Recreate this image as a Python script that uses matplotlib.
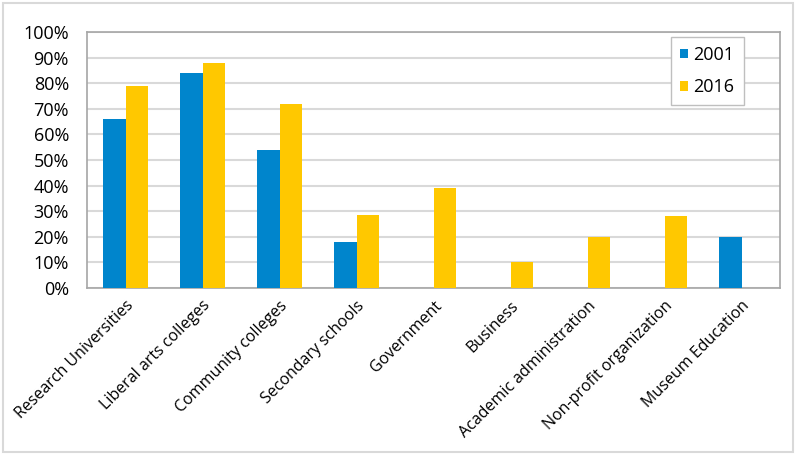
import matplotlib
matplotlib.use("Agg")
import matplotlib.pyplot as plt
import numpy as np
from matplotlib.patches import Rectangle
from matplotlib.ticker import PercentFormatter

categories = [
    "Research Universities", "Liberal arts colleges", "Community colleges",
    "Secondary schools", "Government", "Business", "Academic administration",
    "Non-profit organization", "Museum Education",
]
# None = no bar for that year
vals_2001 = [66, 84, 54, 18, None, None, None, None, 20]
vals_2016 = [79, 88, 72, 28.5, 39, 10, 20, 28, None]
series_labels = ["2001", "2016"]
colors = ["#0085CC", "#FFC800"]

plt.rcParams["font.family"] = ["Open Sans", "DejaVu Sans"]

fig = plt.figure(figsize=(8.01, 4.59), dpi=100)
ax = fig.add_axes([87 / 801, 1 - 288 / 459, (780 - 87) / 801, (288 - 32) / 459])

x = np.arange(len(categories))
w = 0.286
for vals, off, c, lab in [(vals_2001, -w / 2, colors[0], series_labels[0]),
                          (vals_2016, w / 2, colors[1], series_labels[1])]:
    xs = [xi + off for xi, v in zip(x, vals) if v is not None]
    ys = [v for v in vals if v is not None]
    ax.bar(xs, ys, width=w, color=c, label=lab, zorder=3)

ax.set_xlim(-0.5, len(categories) - 0.5)
ax.set_ylim(0, 100)
ax.set_yticks(np.arange(0, 101, 10))
ax.yaxis.set_major_formatter(PercentFormatter(decimals=0))
ax.grid(axis="y", color="#D9D9D9", lw=1.5, zorder=0)
for s in ax.spines.values():
    s.set_color("#A6A6A6")
    s.set_linewidth(1.2)
ax.tick_params(axis="both", length=0)
ax.tick_params(axis="y", labelsize=13, pad=13)
ax.set_xticks(x)
ax.set_xticklabels(categories, rotation=45, ha="right", rotation_mode="anchor",
                   fontsize=11.5)
ax.tick_params(axis="x", pad=7)

leg = ax.legend(loc="upper left", bbox_to_anchor=((671 - 87) / 693, 1 - 5 / 256),
                fontsize=13, handlelength=0.45, handleheight=0.45,
                handletextpad=0.3, labelspacing=0.8, borderpad=0.5,
                borderaxespad=0, fancybox=False,
                edgecolor="#BFBFBF", framealpha=1)
leg.get_frame().set_linewidth(1.0)

fig.patches.append(Rectangle((3 / 801, 1 - 452 / 459), 790 / 801, 449 / 459,
                             transform=fig.transFigure, fill=False,
                             edgecolor="#D9D9D9", lw=1.5))

fig.savefig("out.png", dpi=100)
